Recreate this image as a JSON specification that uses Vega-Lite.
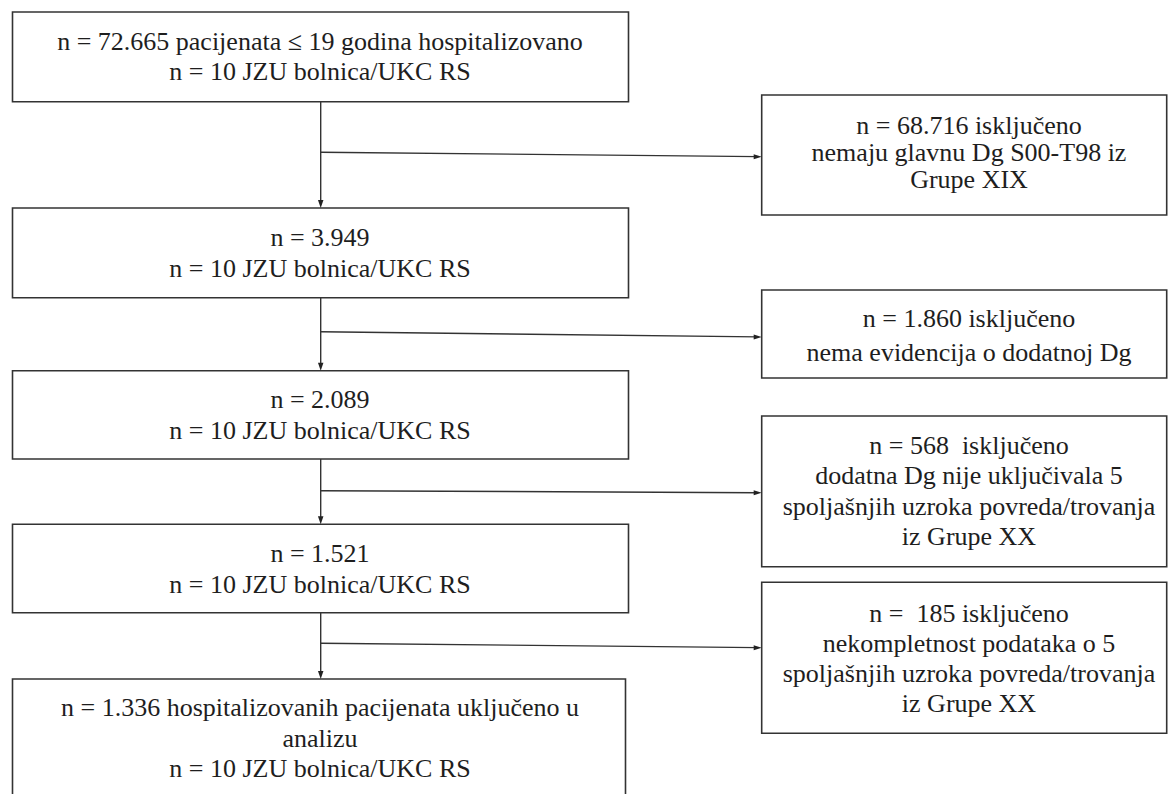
{
  "$schema": "https://vega.github.io/schema/vega-lite/v6.json",
  "width": 1168,
  "height": 794,
  "autosize": {"type": "none"},
  "padding": 0,
  "background": "white",
  "config": {"view": {"stroke": null}, "axis": {"disable": true}},
  "datasets": {
    "boxes": [
      {"id": "L1", "x": 12.5, "x2": 628.5, "y": 12, "y2": 101.7},
      {"id": "L2", "x": 12.5, "x2": 628.5, "y": 208, "y2": 297.7},
      {"id": "L3", "x": 12.5, "x2": 628.5, "y": 370.7, "y2": 459},
      {"id": "L4", "x": 12.5, "x2": 628.5, "y": 524.3, "y2": 612.7},
      {"id": "L5", "x": 12.5, "x2": 625.5, "y": 679, "y2": 805},
      {"id": "R1", "x": 761.7, "x2": 1166.7, "y": 95, "y2": 215},
      {"id": "R2", "x": 761.7, "x2": 1166.7, "y": 290, "y2": 378},
      {"id": "R3", "x": 761.7, "x2": 1166.7, "y": 416, "y2": 566.7},
      {"id": "R4", "x": 761.7, "x2": 1166.7, "y": 582.3, "y2": 733.3}
    ],
    "lines": [
      {"x": 320.7, "y": 101.7, "x2": 320.7, "y2": 204},
      {"x": 320.7, "y": 297.7, "x2": 320.7, "y2": 366.7},
      {"x": 320.7, "y": 459, "x2": 320.7, "y2": 520.3},
      {"x": 320.7, "y": 612.7, "x2": 320.7, "y2": 675},
      {"x": 320.7, "y": 152.3, "x2": 757.7, "y2": 156.6},
      {"x": 320.7, "y": 331.7, "x2": 757.7, "y2": 336.9},
      {"x": 320.7, "y": 490.7, "x2": 757.7, "y2": 492.7},
      {"x": 320.7, "y": 643.3, "x2": 757.7, "y2": 647.6}
    ],
    "heads": [
      {"x": 320.7, "y": 208, "dir": "down"},
      {"x": 320.7, "y": 370.7, "dir": "down"},
      {"x": 320.7, "y": 524.3, "dir": "down"},
      {"x": 320.7, "y": 679, "dir": "down"},
      {"x": 761.7, "y": 156.7, "dir": "right"},
      {"x": 761.7, "y": 337, "dir": "right"},
      {"x": 761.7, "y": 492.7, "dir": "right"},
      {"x": 761.7, "y": 647.7, "dir": "right"}
    ],
    "labels": [
      {"x": 320, "y": 50, "text": "n = 72.665 pacijenata ≤ 19 godina hospitalizovano"},
      {"x": 320, "y": 80, "text": "n = 10 JZU bolnica/UKC RS"},
      {"x": 320, "y": 246, "text": "n = 3.949"},
      {"x": 320, "y": 277, "text": "n = 10 JZU bolnica/UKC RS"},
      {"x": 320, "y": 408, "text": "n = 2.089"},
      {"x": 320, "y": 439, "text": "n = 10 JZU bolnica/UKC RS"},
      {"x": 320, "y": 562, "text": "n = 1.521"},
      {"x": 320, "y": 593, "text": "n = 10 JZU bolnica/UKC RS"},
      {"x": 320, "y": 716, "text": "n = 1.336 hospitalizovanih pacijenata uključeno u"},
      {"x": 320, "y": 747, "text": "analizu"},
      {"x": 320, "y": 777, "text": "n = 10 JZU bolnica/UKC RS"},
      {"x": 969, "y": 134, "text": "n = 68.716 isključeno"},
      {"x": 969, "y": 161, "text": "nemaju glavnu Dg S00-T98 iz"},
      {"x": 969, "y": 188, "text": "Grupe XIX"},
      {"x": 969, "y": 327, "text": "n = 1.860 isključeno"},
      {"x": 969, "y": 361, "text": "nema evidencija o dodatnoj Dg"},
      {"x": 969, "y": 454, "text": "n = 568 \u00a0isključeno"},
      {"x": 969, "y": 484, "text": "dodatna Dg nije uključivala 5"},
      {"x": 969, "y": 515, "text": "spoljašnjih uzroka povreda/trovanja"},
      {"x": 969, "y": 545, "text": "iz Grupe XX"},
      {"x": 969, "y": 622, "text": "n = \u00a0185 isključeno"},
      {"x": 969, "y": 652, "text": "nekompletnost podataka o 5"},
      {"x": 969, "y": 682, "text": "spoljašnjih uzroka povreda/trovanja"},
      {"x": 969, "y": 712, "text": "iz Grupe XX"}
    ]
  },
  "layer": [
    {
      "data": {"name": "boxes"},
      "mark": {"type": "rect", "fill": "white", "stroke": "#333333", "strokeWidth": 1.6, "clip": true},
      "encoding": {
        "x": {"field": "x", "type": "quantitative", "scale": {"domain": [0, 1168], "nice": false, "zero": false}},
        "x2": {"field": "x2"},
        "y": {"field": "y", "type": "quantitative", "scale": {"domain": [0, 794], "nice": false, "zero": false, "reverse": true}},
        "y2": {"field": "y2"}
      }
    },
    {
      "data": {"name": "lines"},
      "mark": {"type": "rule", "stroke": "#333333", "strokeWidth": 1.4},
      "encoding": {
        "x": {"field": "x", "type": "quantitative"},
        "x2": {"field": "x2"},
        "y": {"field": "y", "type": "quantitative"},
        "y2": {"field": "y2"}
      }
    },
    {
      "data": {"name": "heads"},
      "mark": {"type": "point", "filled": true, "fill": "#222222", "strokeWidth": 0, "opacity": 1, "size": 100},
      "encoding": {
        "x": {"field": "x", "type": "quantitative"},
        "y": {"field": "y", "type": "quantitative"},
        "shape": {
          "field": "dir", "type": "nominal", "legend": null,
          "scale": {"domain": ["down", "right"], "range": ["M0,0L-0.55,-1.6L0.55,-1.6Z", "M0,0L-1.6,-0.5L-1.6,0.5Z"]}
        }
      }
    },
    {
      "data": {"name": "labels"},
      "mark": {"type": "text", "font": "Times New Roman, Liberation Serif, serif", "fontSize": 26, "align": "center", "baseline": "alphabetic", "color": "#1e1e1e"},
      "encoding": {
        "x": {"field": "x", "type": "quantitative"},
        "y": {"field": "y", "type": "quantitative"},
        "text": {"field": "text", "type": "nominal"}
      }
    }
  ]
}
